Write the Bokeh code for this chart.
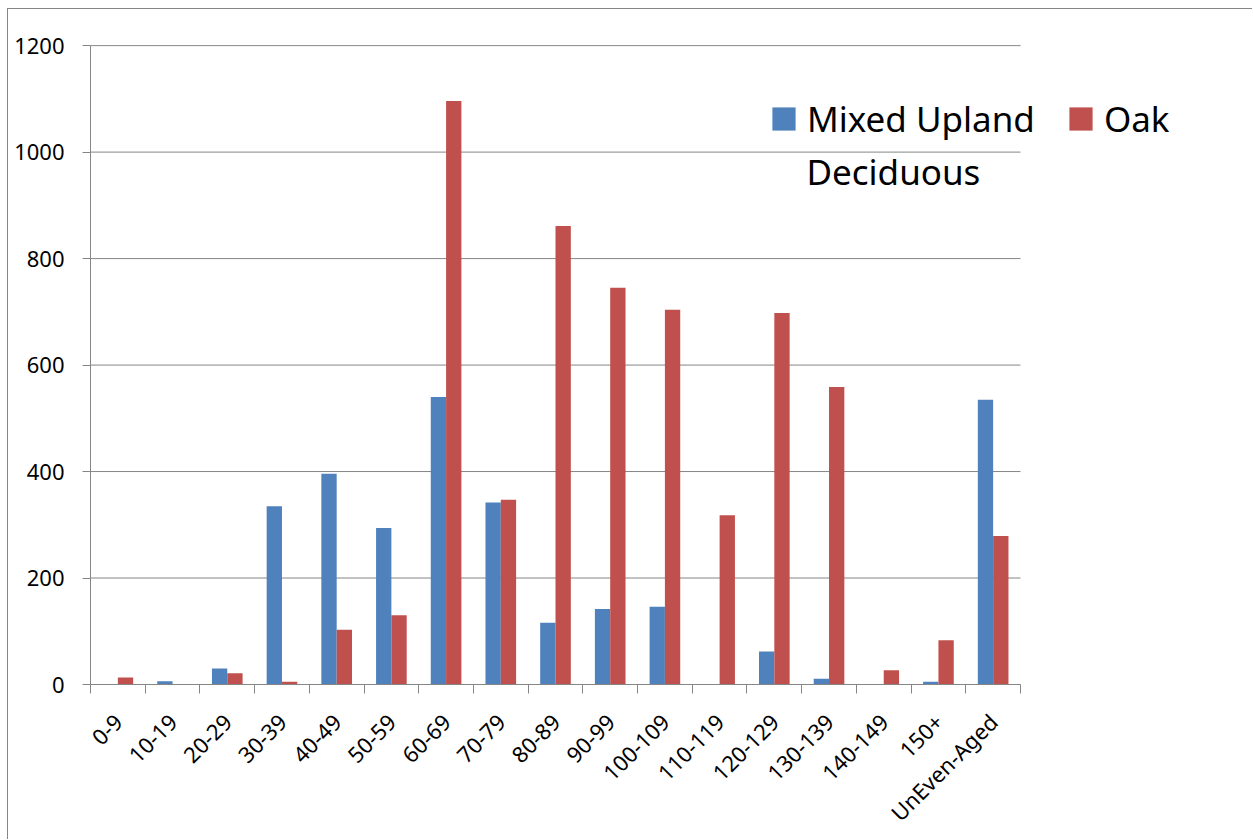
import math
from bokeh.plotting import figure
from bokeh.models import (FixedTicker, Range1d, Legend, LegendItem, Label, ColumnDataSource)
from bokeh.embed import file_html
from bokeh.resources import INLINE

categories = ["0-9", "10-19", "20-29", "30-39", "40-49", "50-59", "60-69", "70-79",
              "80-89", "90-99", "100-109", "110-119", "120-129", "130-139", "140-149",
              "150+", "UnEven-Aged"]
mixed_upland = [0, 6, 30, 335, 396, 294, 540, 342, 116, 142, 146, 0, 62, 11, 0, 5, 535]
oak = [13, 0, 21, 5, 103, 130, 1096, 347, 861, 745, 704, 318, 698, 559, 27, 83, 279]
y_ticks = [0, 200, 400, 600, 800, 1000, 1200]

BLUE = "#4F81BD"
RED = "#C0504D"
GRID = "#868686"
FONT = "Noto Sans"

n = len(categories)
bar_w = 0.28
centers = [i + 0.5 for i in range(n)]

src_b = ColumnDataSource(dict(x=[c - bar_w / 2 for c in centers], top=mixed_upland))
src_r = ColumnDataSource(dict(x=[c + bar_w / 2 for c in centers], top=oak))
src_g = ColumnDataSource(dict(y=y_ticks))

W, H = 1245, 831
LEFT, BOTTOM, TOP = 82, 155, 34
frame_w = W - LEFT
x_end = n * frame_w / 930.0      # categories occupy 930 px of the frame
y_end = 1204

p = figure(width=W, height=H, output_backend="svg", toolbar_location=None,
           x_range=Range1d(0, x_end), y_range=Range1d(0, y_end),
           min_border_left=LEFT, min_border_right=0,
           min_border_top=TOP, min_border_bottom=BOTTOM)
p.margin = (8, 0, 0, 7)
p.styles = {"border-left": "1px solid #868686", "border-top": "1px solid #868686"}
p.outline_line_color = None
p.xgrid.visible = False
p.ygrid.visible = False

# horizontal grid lines limited to the category span
p.segment(x0=0, x1=n, y0="y", y1="y", source=src_g, line_color=GRID, line_width=1)

rb = p.vbar(x="x", top="top", width=bar_w, source=src_b, fill_color=BLUE, line_color=None)
rr = p.vbar(x="x", top="top", width=bar_w, source=src_r, fill_color=RED, line_color=None)

# y axis
ya = p.yaxis[0]
ya.ticker = FixedTicker(ticks=y_ticks)
ya.bounds = (0, 1200)
ya.axis_line_color = GRID
ya.major_tick_line_color = GRID
ya.major_tick_out = 8
ya.major_tick_in = 0
ya.minor_tick_line_color = None
ya.major_label_text_font = FONT
ya.major_label_text_font_size = "22px"
ya.major_label_text_color = "black"
ya.major_label_standoff = 18

# x axis
xa = p.xaxis[0]
xa.ticker = FixedTicker(ticks=centers, minor_ticks=list(range(n + 1)))
xa.major_label_overrides = {c: lab for c, lab in zip(centers, categories)}
xa.bounds = (0, n)
xa.axis_line_color = GRID
xa.major_tick_out = 0
xa.major_tick_in = 0
xa.minor_tick_line_color = GRID
xa.minor_tick_out = 9
xa.minor_tick_in = 0
xa.major_label_orientation = math.pi / 4
xa.major_label_text_font = FONT
xa.major_label_text_font_size = "22px"
xa.major_label_text_color = "black"
xa.major_label_standoff = 24

# legend
legend = Legend(items=[LegendItem(label="Mixed Upland", renderers=[rb]),
                       LegendItem(label="Oak", renderers=[rr])],
                orientation="horizontal", location=(679, 542),
                glyph_width=29, glyph_height=29, label_standoff=9, spacing=31,
                padding=0, margin=0, border_line_color=None, background_fill_alpha=0,
                label_text_font=FONT, label_text_font_size="35px", label_text_color="black")
p.add_layout(legend, "center")
p.add_layout(Label(x=716, y=490, x_units="screen", y_units="screen", text="Deciduous",
                   text_font=FONT, text_font_size="35px", text_color="black"))

open("out.html", "w").write(file_html(p, INLINE))
